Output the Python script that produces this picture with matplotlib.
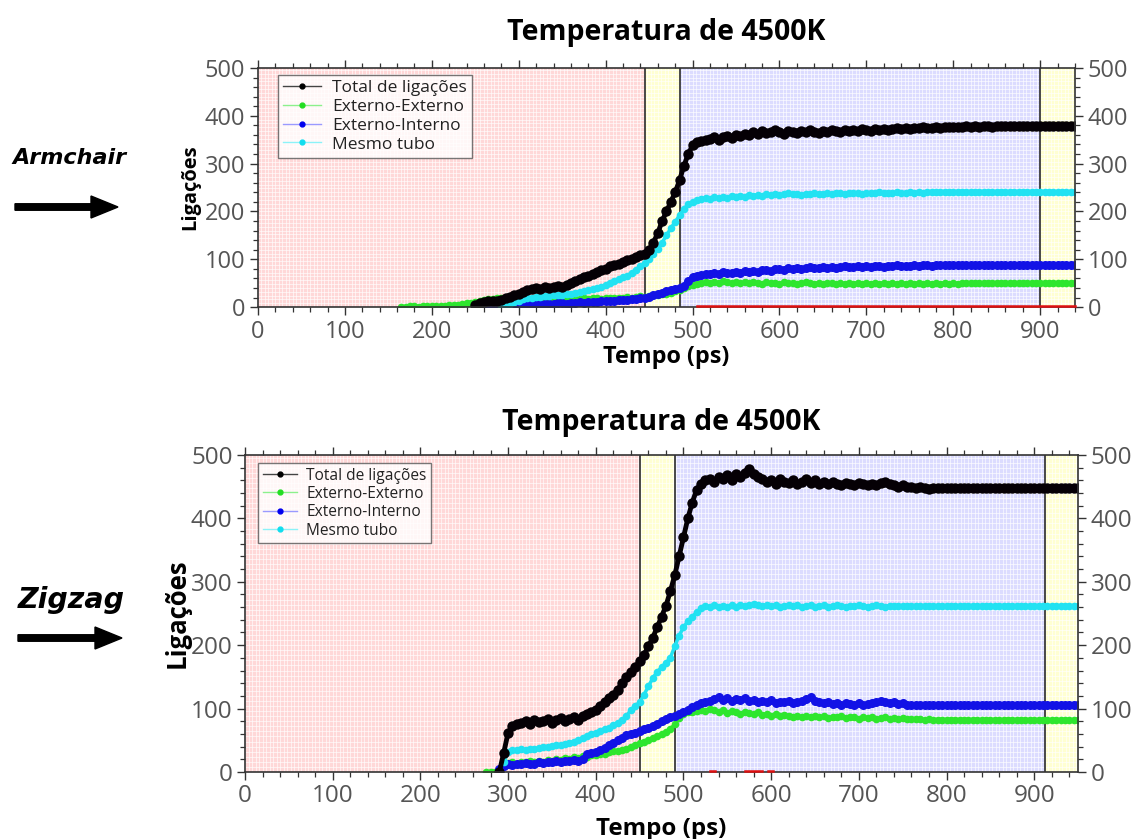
import numpy as np
import matplotlib
matplotlib.use("Agg")
import matplotlib.pyplot as plt
from matplotlib.ticker import MultipleLocator
from matplotlib.lines import Line2D
from matplotlib.patches import FancyArrow

plt.rcParams['font.family'] = ['Open Sans', 'DejaVu Sans']

STEP = 5  # sampling interval of the series, ps

# ---------------- Armchair (top panel) ----------------
arm_total_start = 250
arm_total = [
    5, 8, 10, 12, 13, 12, 14, 18, 22, 25,
    28, 32, 36, 38, 40, 38, 42, 40, 43, 45,
    42, 46, 50, 55, 58, 62, 65, 70, 74, 78,
    80, 85, 88, 90, 95, 98, 100, 104, 108, 112,
    120, 135, 155, 180, 200, 220, 240, 265, 295, 320,
    338, 345, 348, 350, 352, 355, 350, 356, 358, 354,
    360, 357, 362, 360, 366, 362, 368, 364, 366, 370,
    366, 362, 368, 366, 364, 368, 366, 370, 367, 365,
    368, 366, 370, 368, 366, 370, 368, 371, 369, 372,
    370, 368, 372, 370, 373, 371, 372, 374, 372, 374,
    373, 375, 374, 376, 374, 375, 376, 375, 377, 376,
    377, 376, 377, 378, 377, 378, 377, 378, 378, 377,
    378, 378, 378, 378, 378, 378, 378, 378, 378, 378,
    378, 378, 378, 378, 378, 378, 378, 378, 378,
]
arm_ext_ext_start = 165
arm_ext_ext = [
    1, 1, 2, 2, 1, 2, 2, 2, 3, 3,
    3, 4, 4, 5, 6, 8, 9, 10, 12, 14,
    16, 17, 18, 18, 17, 15, 14, 15, 16, 15,
    14, 15, 16, 14, 15, 17, 16, 15, 17, 18,
    17, 16, 18, 17, 19, 18, 17, 19, 20, 18,
    19, 20, 21, 20, 22, 23, 22, 24, 25, 26,
    27, 28, 30, 33, 36, 40, 44, 47, 48, 50,
    52, 50, 53, 51, 54, 52, 50, 53, 51, 52,
    50, 53, 51, 49, 52, 50, 51, 49, 52, 50,
    51, 49, 50, 52, 50, 48, 51, 49, 50, 51,
    49, 50, 48, 51, 49, 50, 48, 50, 49, 51,
    49, 50, 48, 50, 49, 50, 48, 50, 49, 50,
    49, 50, 49, 50, 49, 50, 49, 50, 49, 50,
    50, 50, 50, 50, 50, 50, 50, 50, 50, 50,
    50, 50, 50, 50, 50, 50, 50, 50, 50, 50,
    50, 50, 50, 50, 50, 50,
]
arm_ext_int_start = 250
arm_ext_int = [
    1, 1, 2, 2, 2, 3, 3, 3, 4, 4,
    4, 5, 5, 6, 5, 6, 7, 6, 7, 8,
    8, 7, 9, 8, 10, 9, 10, 11, 10, 12,
    12, 13, 12, 14, 15, 14, 16, 17, 18, 20,
    22, 25, 28, 30, 33, 36, 38, 40, 45, 55,
    62, 66, 68, 70, 69, 72, 70, 73, 71, 72,
    74, 72, 75, 73, 76, 74, 77, 78, 76, 79,
    80, 78, 81, 79, 82, 80, 81, 83, 81, 82,
    83, 82, 84, 82, 83, 85, 84, 83, 85, 84,
    85, 84, 86, 85, 84, 86, 85, 87, 86, 85,
    86, 87, 86, 88, 87, 86, 88, 87, 88, 87,
    88, 87, 88, 89, 88, 87, 88, 89, 88, 88,
    88, 88, 88, 88, 88, 88, 88, 88, 88, 88,
    88, 88, 88, 88, 88, 88, 88, 88, 88,
]
arm_same_start = 280
arm_same = [
    3, 5, 7, 10, 13, 16, 18, 20, 22, 22,
    24, 23, 25, 26, 25, 27, 28, 30, 32, 34,
    36, 38, 40, 43, 46, 50, 54, 58, 62, 66,
    72, 78, 85, 92, 100, 110, 122, 135, 150, 165,
    178, 192, 205, 215, 220, 224, 226, 228, 227, 230,
    228, 231, 229, 232, 230, 233, 231, 234, 232, 235,
    233, 236, 234, 237, 235, 236, 238, 236, 237, 235,
    237, 236, 238, 236, 237, 238, 237, 239, 238, 237,
    238, 239, 238, 237, 239, 238, 239, 240, 238, 239,
    239, 240, 239, 238, 240, 239, 240, 239, 240, 240,
    240, 240, 240, 240, 240, 240, 240, 240, 240, 240,
    240, 240, 240, 240, 240, 240, 240, 240, 240, 240,
    240, 240, 240, 240, 240, 240, 240, 240, 240, 240,
    240, 240, 240,
]
arm_other_t = [505, 940]
arm_other = [2, 2]
arm_stages = [0, 445, 485, 900, 940]

# ---------------- Zigzag (bottom panel) ----------------
zig_total_start = 290
zig_total = [
    0, 30, 62, 72, 75, 78, 80, 76, 82, 79,
    80, 83, 78, 82, 85, 80, 84, 86, 82, 88,
    92, 94, 98, 104, 110, 116, 122, 130, 140, 150,
    158, 165, 175, 185, 198, 212, 228, 245, 262, 285,
    310, 340, 370, 400, 425, 445, 455, 460, 462, 458,
    465, 462, 468, 460, 470, 466, 472, 478, 470, 465,
    462, 458, 460, 455, 462, 458, 456, 460, 455, 458,
    462, 456, 460, 455, 458, 454, 457, 455, 453, 456,
    455, 452, 456, 454, 452, 455, 453, 456, 458, 455,
    452, 450, 452, 449, 450, 448, 449, 448, 447, 448,
    448, 448, 448, 448, 448, 448, 448, 448, 448, 448,
    448, 448, 448, 448, 448, 448, 448, 448, 448, 448,
    448, 448, 448, 448, 448, 448, 448, 448, 448, 448,
    448, 448, 448,
]
zig_ext_ext_start = 275
zig_ext_ext = [
    0, 0, 0, 0, 10, 14, 15, 13, 16, 15,
    17, 15, 18, 16, 19, 18, 20, 19, 22, 21,
    23, 22, 25, 24, 27, 26, 29, 28, 31, 33,
    33, 35, 37, 40, 42, 45, 48, 51, 54, 57,
    60, 63, 68, 75, 85, 92, 95, 94, 96, 98,
    96, 100, 98, 95, 97, 93, 96, 94, 92, 95,
    93, 91, 94, 90, 92, 89, 91, 88, 90, 89,
    87, 89, 86, 88, 87, 89, 86, 88, 85, 87,
    86, 88, 85, 87, 86, 84, 86, 85, 87, 84,
    85, 86, 84, 85, 83, 85, 84, 83, 84, 83,
    82, 83, 82, 82, 82, 82, 82, 82, 82, 82,
    82, 82, 82, 82, 82, 82, 82, 82, 82, 82,
    82, 82, 82, 82, 82, 82, 82, 82, 82, 82,
    82, 82, 82, 82, 82, 82,
]
zig_ext_int_start = 290
zig_ext_int = [
    5, 10, 12, 11, 13, 12, 14, 12, 13, 15,
    14, 16, 15, 17, 16, 18, 17, 19, 18, 20,
    28, 30, 32, 35, 38, 42, 46, 50, 54, 58,
    60, 62, 64, 67, 70, 73, 76, 80, 83, 86,
    88, 92, 95, 98, 102, 106, 108, 110, 112, 115,
    118, 114, 116, 112, 115, 113, 116, 112, 114, 110,
    112, 110, 113, 109, 111, 110, 112, 108, 110, 112,
    115, 118, 112, 110, 108, 110, 107, 109, 106, 108,
    107, 105, 108, 106, 107, 109, 110, 112, 110, 108,
    110, 107, 108, 106, 105, 106, 105, 106, 105, 105,
    105, 105, 105, 105, 105, 105, 105, 105, 105, 105,
    105, 105, 105, 105, 105, 105, 105, 105, 105, 105,
    105, 105, 105, 105, 105, 105, 105, 105, 105, 105,
    105, 105, 105,
]
zig_same_start = 295
zig_same = [
    15, 32, 35, 34, 36, 35, 37, 36, 38, 39,
    40, 41, 42, 43, 44, 46, 48, 50, 53, 56,
    60, 62, 64, 67, 70, 74, 78, 82, 88, 98,
    104, 110, 122, 135, 148, 158, 165, 172, 180, 198,
    215, 228, 238, 245, 252, 258, 262, 260, 263, 261,
    262, 260, 263, 261, 264, 262, 263, 265, 263, 262,
    264, 262, 263, 261, 262, 264, 262, 263, 261, 262,
    263, 261, 262, 263, 261, 262, 263, 262, 261, 262,
    262, 263, 262, 261, 262, 263, 262, 261, 262, 262,
    262, 262, 262, 262, 262, 262, 262, 262, 262, 262,
    262, 262, 262, 262, 262, 262, 262, 262, 262, 262,
    262, 262, 262, 262, 262, 262, 262, 262, 262, 262,
    262, 262, 262, 262, 262, 262, 262, 262, 262, 262,
    262, 262,
]
zig_other_t = [530, 536, np.nan, 570, 590, np.nan, 596, 602]
zig_other = [2, 2, np.nan, 2, 2, np.nan, 2, 2]
zig_stages = [0, 450, 490, 912, 950]

labels = ["Total de ligações", "Externo-Externo", "Externo-Interno", "Mesmo tubo"]
line_colors = ["#050005", "#2ee62e", "#1212e6", "#22e2f2"]
legend_line_colors = ["#444444", "#8cf08c", "#9a9aff", "#8cf2f8"]
marker_colors = ["#000000", "#22dd22", "#0000ee", "#11ddee"]
stage_colors = ["#ffd8d8", "#ffffd2", "#dcdcff", "#ffffd2"]

TICK_GRAY = "#555555"


def times(start, values):
    return start + STEP * np.arange(len(values))


def panel(ax, series, other_t, other_v, stages, xmax, tick_fs, leg_fs, leg_anchor):
    ax.set_xlim(0, xmax)
    ax.set_ylim(0, 500)
    # background stages
    for i in range(len(stages) - 1):
        ax.axvspan(stages[i], stages[i + 1], color=stage_colors[i], lw=0, zorder=0)
    # fine white texture
    ax.vlines(np.arange(0, xmax, 4), 0, 500, color="white", lw=0.55, alpha=0.8, zorder=0.5)
    ax.hlines(np.arange(0, 500, 8), 0, xmax, color="white", lw=0.55, alpha=0.8, zorder=0.5)
    for s in stages[1:-1]:
        ax.axvline(s, color="#3a3a3a", lw=1.3, zorder=1)

    order = [1, 2, 3, 0]
    sizes = [7.5, 5.5, 6.5, 5.5]
    widths = [3.5, 2.5, 3.0, 2.5]
    for k in order:
        t, v = series[k]
        ax.plot(t, v, color=line_colors[k], lw=widths[k], marker="o", ms=sizes[k],
                markeredgewidth=0, zorder=2 + k if k else 6)
    ax.plot(other_t, other_v, color="#dd1010", lw=1.8, zorder=9, clip_on=False)

    ax.xaxis.set_major_locator(MultipleLocator(100))
    ax.xaxis.set_minor_locator(MultipleLocator(20))
    ax.yaxis.set_major_locator(MultipleLocator(100))
    ax.yaxis.set_minor_locator(MultipleLocator(20))
    ax.tick_params(which="both", direction="out", top=True, right=True,
                   labelright=True, colors="#333333", labelcolor=TICK_GRAY,
                   labelsize=tick_fs)
    ax.tick_params(which="major", length=6, width=1.0, pad=3)
    ax.tick_params(which="minor", length=3.5, width=0.9)
    for sp in ax.spines.values():
        sp.set_color("#333333")
        sp.set_linewidth(1.2)
        sp.set_zorder(8)

    handles = [Line2D([], [], color=legend_line_colors[k], lw=1.0, marker="o", ms=3.5,
                      markerfacecolor=marker_colors[k], markeredgecolor=marker_colors[k])
               for k in range(4)]
    leg = ax.legend(handles, labels, loc="upper left", bbox_to_anchor=leg_anchor,
                    fontsize=leg_fs, fancybox=False, frameon=True, borderpad=0.3,
                    labelspacing=0.15, handlelength=2.2, handletextpad=0.6,
                    borderaxespad=0.0)
    fr = leg.get_frame()
    fr.set_facecolor((1, 1, 1, 0.25))
    fr.set_edgecolor("#555555")
    fr.set_linewidth(1.0)
    for txt in leg.get_texts():
        txt.set_color("#222222")
    return ax


fig = plt.figure(figsize=(11.36, 8.39), dpi=100)

ax1 = fig.add_axes([0.2271, 0.634, 0.7192, 0.285])
panel(ax1,
      [(times(arm_total_start, arm_total), arm_total),
       (times(arm_ext_ext_start, arm_ext_ext), arm_ext_ext),
       (times(arm_ext_int_start, arm_ext_int), arm_ext_int),
       (times(arm_same_start, arm_same), arm_same)],
      arm_other_t, arm_other, arm_stages, 940, 17, 12.5, (0.0245, 0.971))
ax1.set_title("Temperatura de 4500K", fontsize=20.5, fontweight="bold", pad=20)
ax1.set_xlabel("Tempo (ps)", fontsize=16.8, fontweight="bold", labelpad=1)
ax1.set_ylabel("Ligações", fontsize=14.5, fontweight="bold", labelpad=3)

ax2 = fig.add_axes([0.2157, 0.0799, 0.7333, 0.3778])
panel(ax2,
      [(times(zig_total_start, zig_total), zig_total),
       (times(zig_ext_ext_start, zig_ext_ext), zig_ext_ext),
       (times(zig_ext_int_start, zig_ext_int), zig_ext_int),
       (times(zig_same_start, zig_same), zig_same)],
      zig_other_t, zig_other, zig_stages, 950, 17.5, 11.2, (0.0156, 0.975))
ax2.set_title("Temperatura de 4500K", fontsize=20.5, fontweight="bold", pad=18)
ax2.set_xlabel("Tempo (ps)", fontsize=17.4, fontweight="bold", labelpad=6)
ax2.set_ylabel("Ligações", fontsize=18.5, fontweight="bold", labelpad=0)

# structure labels with arrows on the left
fig.text(12 / 1136, 1 - 158 / 839, "Armchair", fontsize=16, fontweight="bold",
         fontstyle="italic", family="DejaVu Sans", va="center", ha="left")
fig.text(18 / 1136, 1 - 600 / 839, "Zigzag", fontsize=20.5, fontweight="bold",
         fontstyle="italic", family="DejaVu Sans", va="center", ha="left")
for (x0, x1, y) in [(15, 118, 207), (18, 122, 638)]:
    yy = (839 - y) / 100
    fig.patches.append(FancyArrow(x0 / 100, yy, (x1 - x0) / 100, 0, width=0.065,
                                  head_width=0.22, head_length=0.27,
                                  length_includes_head=True, color="black",
                                  transform=fig.dpi_scale_trans, figure=fig))

fig.savefig("out.png", dpi=100)
